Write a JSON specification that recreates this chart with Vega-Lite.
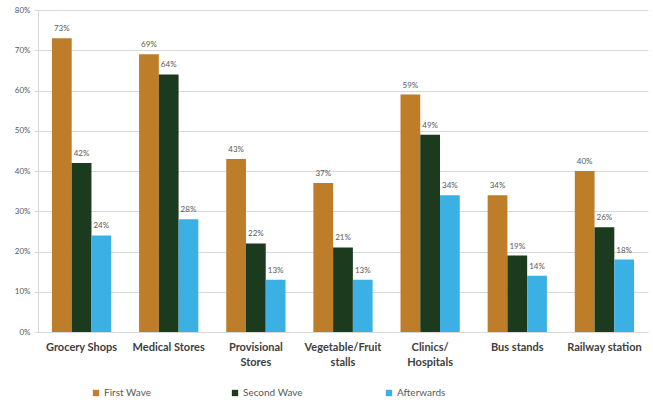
{
  "$schema": "https://vega.github.io/schema/vega-lite/v6.json",
  "autosize": {"type": "none"},
  "padding": {"left": 38, "top": 10, "right": 5, "bottom": 70},
  "width": 610,
  "height": 322,
  "background": "white",
  "config": {
    "font": "Lato",
    "view": {"stroke": null},
    "axis": {"labelFont": "Lato"},
    "legend": {"labelFont": "Lato"}
  },
  "data": {
    "values": [
      {"place": "Grocery Shops", "wave": "First Wave", "share": 0.73},
      {"place": "Grocery Shops", "wave": "Second  Wave", "share": 0.42},
      {"place": "Grocery Shops", "wave": "Afterwards", "share": 0.24},
      {"place": "Medical Stores", "wave": "First Wave", "share": 0.69},
      {"place": "Medical Stores", "wave": "Second  Wave", "share": 0.64},
      {"place": "Medical Stores", "wave": "Afterwards", "share": 0.28},
      {"place": "Provisional|Stores", "wave": "First Wave", "share": 0.43},
      {"place": "Provisional|Stores", "wave": "Second  Wave", "share": 0.22},
      {"place": "Provisional|Stores", "wave": "Afterwards", "share": 0.13},
      {"place": "Vegetable/Fruit|stalls", "wave": "First Wave", "share": 0.37},
      {"place": "Vegetable/Fruit|stalls", "wave": "Second  Wave", "share": 0.21},
      {"place": "Vegetable/Fruit|stalls", "wave": "Afterwards", "share": 0.13},
      {"place": "Clinics/|Hospitals", "wave": "First Wave", "share": 0.59},
      {"place": "Clinics/|Hospitals", "wave": "Second  Wave", "share": 0.49},
      {"place": "Clinics/|Hospitals", "wave": "Afterwards", "share": 0.34},
      {"place": "Bus stands", "wave": "First Wave", "share": 0.34},
      {"place": "Bus stands", "wave": "Second  Wave", "share": 0.19},
      {"place": "Bus stands", "wave": "Afterwards", "share": 0.14},
      {"place": "Railway station", "wave": "First Wave", "share": 0.40},
      {"place": "Railway station", "wave": "Second  Wave", "share": 0.26},
      {"place": "Railway station", "wave": "Afterwards", "share": 0.18}
    ]
  },
  "encoding": {
    "x": {
      "field": "place",
      "type": "nominal",
      "sort": null,
      "scale": {"paddingInner": 0.32, "paddingOuter": 0.16},
      "axis": {
        "title": null,
        "labelAngle": 0,
        "labelExpr": "split(datum.label, '|')",
        "labelFontSize": 11,
        "labelFontWeight": "bold",
        "labelColor": "#404040",
        "labelPadding": 9,
        "labelLineHeight": 15,
        "ticks": false,
        "domainColor": "#d9d9d9",
        "grid": false
      }
    },
    "xOffset": {
      "field": "wave",
      "type": "nominal",
      "sort": ["First Wave", "Second  Wave", "Afterwards"],
      "scale": {"paddingInner": 0, "paddingOuter": 0}
    },
    "y": {
      "field": "share",
      "type": "quantitative",
      "scale": {"domain": [0, 0.8], "nice": false},
      "axis": {
        "title": null,
        "format": ".0%",
        "values": [0, 0.1, 0.2, 0.3, 0.4, 0.5, 0.6, 0.7, 0.8],
        "labelFontSize": 8,
        "labelColor": "#595959",
        "labelPadding": 4,
        "tickSize": 4,
        "tickColor": "#d9d9d9",
        "domainColor": "#d9d9d9",
        "gridColor": "#d9d9d9"
      }
    }
  },
  "layer": [
    {
      "mark": {"type": "bar"},
      "encoding": {
        "color": {
          "field": "wave",
          "type": "nominal",
          "sort": ["First Wave", "Second  Wave", "Afterwards"],
          "scale": {
            "domain": ["First Wave", "Second  Wave", "Afterwards"],
            "range": ["#BE7D28", "#1C3A1E", "#3AB0E4"]
          },
          "legend": {
            "title": null,
            "orient": "none",
            "direction": "horizontal",
            "legendX": 53,
            "legendY": 378,
            "symbolType": "square",
            "symbolSize": 40,
            "labelFontSize": 10,
            "labelColor": "#595959",
            "labelOffset": 3,
            "columnPadding": 78
          }
        }
      }
    },
    {
      "mark": {"type": "text", "baseline": "bottom", "dy": -5, "fontSize": 8, "color": "#595959"},
      "encoding": {
        "text": {"field": "share", "type": "quantitative", "format": ".0%"}
      }
    }
  ]
}
